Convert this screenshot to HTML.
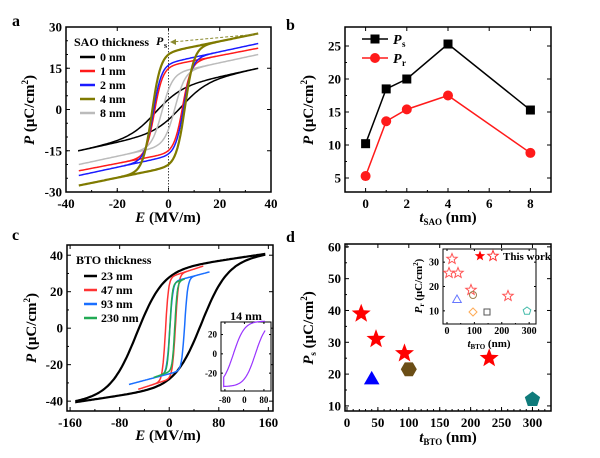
<!DOCTYPE html>
<html><head><meta charset="utf-8"><style>
html,body{margin:0;padding:0;background:#fff;}
svg{display:block;font-family:"Liberation Serif",serif;font-weight:bold;}
</style></head><body>
<svg id="s" width="600" height="458" viewBox="0 0 600 458" xmlns="http://www.w3.org/2000/svg">
<g font-size="16" font-weight="bold">
<text x="12" y="26">a</text><text x="286" y="30">b</text>
<text x="12" y="240">c</text><text x="286" y="242">d</text>
</g>
</svg>
<script>
var S=document.getElementById('s'),NS='http://www.w3.org/2000/svg';
function el(t,a,txt){var e=document.createElementNS(NS,t);for(var k in a)e.setAttribute(k,a[k]);if(txt!=null)e.innerHTML=txt;S.appendChild(e);return e;}
function axes(o){
 el('rect',{x:o.x0,y:o.y0,width:o.x1-o.x0,height:o.y1-o.y0,fill:'none',stroke:'#000','stroke-width':o.sw||1.5});
 var fx=function(v){return o.x0+(v-o.xmin)/(o.xmax-o.xmin)*(o.x1-o.x0)};
 var fy=function(v){return o.y1-(v-o.ymin)/(o.ymax-o.ymin)*(o.y1-o.y0)};
 o.fx=fx;o.fy=fy;var fs=o.fs||13,tl=o.tl||4,gap=o.gap==null?3:o.gap;
 o.xt.forEach(function(v){var x=fx(v);el('line',{x1:x,x2:x,y1:o.y1,y2:o.y1-tl,stroke:'#000','stroke-width':1});el('line',{x1:x,x2:x,y1:o.y0,y2:o.y0+tl,stroke:'#000','stroke-width':1});
  el('text',{x:x,y:o.y1+fs+gap,'font-size':fs,'text-anchor':'middle'},v);});
 if(o.xm)o.xm.forEach(function(v){var x=fx(v);el('line',{x1:x,x2:x,y1:o.y1,y2:o.y1-tl/2,stroke:'#000'});});
 o.yt.forEach(function(v){var y=fy(v);el('line',{x1:o.x0,x2:o.x0+tl,y1:y,y2:y,stroke:'#000'});el('line',{x1:o.x1,x2:o.x1-tl,y1:y,y2:y,stroke:'#000'});
  el('text',{x:o.x0-4,y:y+fs*0.35,'font-size':fs,'text-anchor':'end'},v);});
 if(o.ym)o.ym.forEach(function(v){var y=fy(v);el('line',{x1:o.x0,x2:o.x0+tl/2,y1:y,y2:y,stroke:'#000'});});
 return o;}
function rng(a,b,s){var r=[];for(var v=a;v<=b+1e-9;v+=s)r.push(+v.toFixed(3));return r;}
function loop(o,c,p,sw){var d='',n=120,i,E,P;
 var sh=p.sh||0;
 for(i=0;i<=n;i++){E=p.e1-(p.e1-p.e0)*i/n;P=p.a*Math.tanh((E-sh+p.ec)/p.w)+p.b*E;d+=(i?'L':'M')+o.fx(E).toFixed(1)+','+o.fy(P).toFixed(1);}
 for(i=0;i<=n;i++){E=p.e0+(p.e1-p.e0)*i/n;P=p.a*Math.tanh((E-sh-p.ec)/p.w)+p.b*E;d+='L'+o.fx(E).toFixed(1)+','+o.fy(P).toFixed(1);}
 el('path',{d:d,fill:'none',stroke:c,'stroke-width':sw||1.5});}
// Panel a
var A=axes({x0:66,x1:271,y0:27,y1:192,xmin:-40,xmax:40,ymin:-30,ymax:30,xt:[-40,-20,0,20,40],xm:rng(-30,30,10),yt:[30,15,0,-15,-30],ym:rng(-25,25,5)});
el('line',{x1:A.fx(0),x2:A.fx(0),y1:27,y2:192,stroke:'#444','stroke-dasharray':'1.5,1.5','stroke-width':1});
loop(A,'#000',{e0:-35,e1:35,a:8,w:10,ec:5,b:0.2});
loop(A,'#bbb',{e0:-35,e1:35,a:13,w:4,ec:2.5,b:0.2});
loop(A,'#ff1a1a',{e0:-35,e1:35,a:16,w:3.3,ec:5.5,b:0.18});
loop(A,'#1a1aff',{e0:-35,e1:35,a:17,w:3.3,ec:6,b:0.2});
loop(A,'#7f7a00',{e0:-35,e1:35,a:21,w:3.5,ec:6.5,b:0.19},2.2);
el('line',{x1:258,x2:172,y1:34,y2:42,stroke:'#8a8a30','stroke-dasharray':'3,2'});
el('path',{d:'M170,42 L176,39 L176,45Z',fill:'#8a8a30'});
el('text',{x:74,y:46,'font-size':12},'SAO thickness');
el('text',{x:156,y:45,'font-size':12,'font-style':'italic'},'P');el('text',{x:164,y:48,'font-size':8},'s');
[['#000','0 nm'],['#ff1a1a','1 nm'],['#1a1aff','2 nm'],['#7f7a00','4 nm'],['#bbb','8 nm']].forEach(function(r,i){var y=61+i*14;
 el('line',{x1:80,x2:95,y1:y-4,y2:y-4,stroke:r[0],'stroke-width':2.5});el('text',{x:100,y:y,'font-size':12},r[1]);});
el('text',{x:168,y:222,'font-size':15,'text-anchor':'middle'},'<tspan font-style="italic">E</tspan> (MV/m)');
el('text',{transform:'translate(34,110) rotate(-90)','font-size':15,'text-anchor':'middle'},'<tspan font-style="italic">P</tspan> (μC/cm<tspan font-size="9" dy="-6">2</tspan><tspan dy="6">)</tspan>');
// Panel b
var B=axes({x0:345,x1:551,y0:27,y1:192,xmin:-1,xmax:9,ymin:2.88,ymax:27.88,xt:[0,2,4,6,8],xm:rng(1,7,2),yt:[5,10,15,20,25],ym:rng(7.5,22.5,5)});
function series(o,pts,c,mk){var d=pts.map(function(p,i){return (i?'L':'M')+o.fx(p[0])+','+o.fy(p[1])}).join('');
 el('path',{d:d,fill:'none',stroke:c,'stroke-width':1.5});
 pts.forEach(function(p){var x=o.fx(p[0]),y=o.fy(p[1]);if(mk=='s')el('rect',{x:x-4.5,y:y-4.5,width:9,height:9,fill:c});else el('circle',{cx:x,cy:y,r:5,fill:c});});}
series(B,[[0,10.2],[1,18.5],[2,20],[4,25.3],[8,15.3]],'#000','s');
series(B,[[0,5.3],[1,13.6],[2,15.4],[4,17.5],[8,8.8]],'#ff1a1a','c');
el('line',{x1:362,x2:388,y1:39,y2:39,stroke:'#000','stroke-width':1.5});el('rect',{x:370.5,y:34.5,width:9,height:9,fill:'#000'});
el('text',{x:393,y:44,'font-size':14,'font-style':'italic'},'P');el('text',{x:402,y:47,'font-size':9},'s');
el('line',{x1:362,x2:388,y1:58,y2:58,stroke:'#ff1a1a','stroke-width':1.5});el('circle',{cx:375,cy:58,r:5,fill:'#ff1a1a'});
el('text',{x:393,y:63,'font-size':14,'font-style':'italic'},'P');el('text',{x:402,y:66,'font-size':9},'r');
el('text',{x:448,y:222,'font-size':15,'text-anchor':'middle'},'<tspan font-style="italic">t</tspan><tspan font-size="9" dy="3">SAO</tspan><tspan dy="-3"> (nm)</tspan>');
el('text',{transform:'translate(313,110) rotate(-90)','font-size':15,'text-anchor':'middle'},'<tspan font-style="italic">P</tspan> (μC/cm<tspan font-size="9" dy="-6">2</tspan><tspan dy="6">)</tspan>');
// Panel c
var C=axes({x0:67,x1:273,y0:245,y1:411,xmin:-165,xmax:167.5,ymin:-45.4,ymax:45.6,xt:[-160,-80,0,80,160],xm:rng(-120,120,80),yt:[40,20,0,-20,-40],ym:rng(-30,30,20)});
loop(C,'#000',{e0:-150,e1:155,a:33,w:42,ec:52,b:0.05},2.2);
loop(C,'#ff3333',{e0:-50,e1:55,a:28,w:5,ec:8,b:0.11,sh:2});
loop(C,'#1a6fff',{e0:-65,e1:65,a:25,w:5,ec:12,b:0.09,sh:13});
loop(C,'#22aa55',{e0:-25,e1:25,a:24,w:4,ec:4,b:0.12,sh:5});
el('text',{x:76,y:264,'font-size':12},'BTO thickness');
[['#000','23 nm'],['#ff3333','47 nm'],['#1a6fff','93 nm'],['#22aa55','230 nm']].forEach(function(r,i){var y=280+i*14;
 el('line',{x1:84,x2:97,y1:y-4,y2:y-4,stroke:r[0],'stroke-width':2.5});el('text',{x:101,y:y,'font-size':12},r[1]);});
el('rect',{x:221,y:322,width:50,height:69,fill:'#fff'});
var CI=axes({x0:221,x1:271,y0:322,y1:391,xmin:-96,xmax:109,ymin:-38.5,ymax:33,xt:[-80,0,80],yt:[20,0,-20],fs:9,tl:2,sw:1});
loop(CI,'#9933ff',{e0:-85,e1:85,a:34,w:45,ec:45,b:0},1.2);
el('text',{x:246,y:320,'font-size':12,'text-anchor':'middle'},'14 nm');
el('text',{x:168,y:440,'font-size':15,'text-anchor':'middle'},'<tspan font-style="italic">E</tspan> (MV/m)');
el('text',{transform:'translate(36,328) rotate(-90)','font-size':15,'text-anchor':'middle'},'<tspan font-style="italic">P</tspan> (μC/cm<tspan font-size="9" dy="-6">2</tspan><tspan dy="6">)</tspan>');
// Panel d
var D=axes({x0:345,x1:551,y0:244,y1:411,xmin:-3.2,xmax:330,ymin:8.4,ymax:60.9,xt:[0,50,100,150,200,250,300],xm:rng(10,320,10),yt:[10,20,30,40,50,60],ym:rng(15,55,10)});
function star(cx,cy,r,fill,stroke){var d='';for(var i=0;i<10;i++){var rr=i%2?r*0.42:r,a=-Math.PI/2+i*Math.PI/5;d+=(i?'L':'M')+(cx+rr*Math.cos(a)).toFixed(1)+','+(cy+rr*Math.sin(a)).toFixed(1);}
 el('path',{d:d+'Z',fill:fill,stroke:stroke||'none','stroke-width':1});}
function poly(cx,cy,r,n,rot,fill,stroke){var d='';for(var i=0;i<n;i++){var a=rot+i*2*Math.PI/n;d+=(i?'L':'M')+(cx+r*Math.cos(a)).toFixed(1)+','+(cy+r*Math.sin(a)).toFixed(1);}
 el('path',{d:d+'Z',fill:fill,stroke:stroke||'none','stroke-width':1});}
[[23,39],[47,31],[93,26.5],[230,25]].forEach(function(p){star(D.fx(p[0]),D.fy(p[1]),10,'#ff0000');});
poly(D.fx(40),D.fy(18.5)+1,9,3,-Math.PI/2,'#0000ff');
poly(D.fx(100),D.fy(21.5),8,6,0,'#6b4e16');
poly(D.fx(300),D.fy(12),8,5,-Math.PI/2,'#0f7b7b');
el('rect',{x:443,y:249,width:93,height:75,fill:'#fff'});
var DI=axes({x0:443,x1:536,y0:249,y1:324,xmin:-14.6,xmax:325,ymin:4.6,ymax:35.4,xt:[0,100,200,300],xm:[50,150,250],yt:[30,20,10],fs:10,tl:2,sw:1,gap:0});
[[452,259],[449,273],[458,273],[471,290],[508,296]].forEach(function(p){star(p[0],p[1],5.5,'none','#ff5555');});
poly(457,300,5,3,-Math.PI/2,'none','#6677ff');
el('circle',{cx:473,cy:295,r:3.5,fill:'none',stroke:'#a08050'});
poly(473,312,4,4,0,'none','#ffaa55');
el('rect',{x:484,y:309,width:6,height:6,fill:'none',stroke:'#555'});
poly(527,311,4,5,-Math.PI/2,'none','#44bbaa');
star(480,256,5.5,'#ff0000');star(493,256,5.5,'none','#ff3333');
el('text',{x:503,y:260,'font-size':11},'This work');
el('text',{x:489,y:347,'font-size':11,'text-anchor':'middle'},'<tspan font-style="italic">t</tspan><tspan font-size="7" dy="2">BTO</tspan><tspan dy="-2"> (nm)</tspan>');
el('text',{transform:'translate(422,286) rotate(-90)','font-size':11,'text-anchor':'middle'},'<tspan font-style="italic">P</tspan><tspan font-size="7" dy="2">r</tspan><tspan dy="-2"> (μC/cm</tspan><tspan font-size="7" dy="-4">2</tspan><tspan dy="4">)</tspan>');
el('text',{x:448,y:442,'font-size':15,'text-anchor':'middle'},'<tspan font-style="italic">t</tspan><tspan font-size="9" dy="3">BTO</tspan><tspan dy="-3"> (nm)</tspan>');
el('text',{transform:'translate(313,328) rotate(-90)','font-size':15,'text-anchor':'middle'},'<tspan font-style="italic">P</tspan><tspan font-size="9" dy="3">s</tspan><tspan dy="-3"> (μC/cm</tspan><tspan font-size="9" dy="-6">2</tspan><tspan dy="6">)</tspan>');
</script>
</body></html>
